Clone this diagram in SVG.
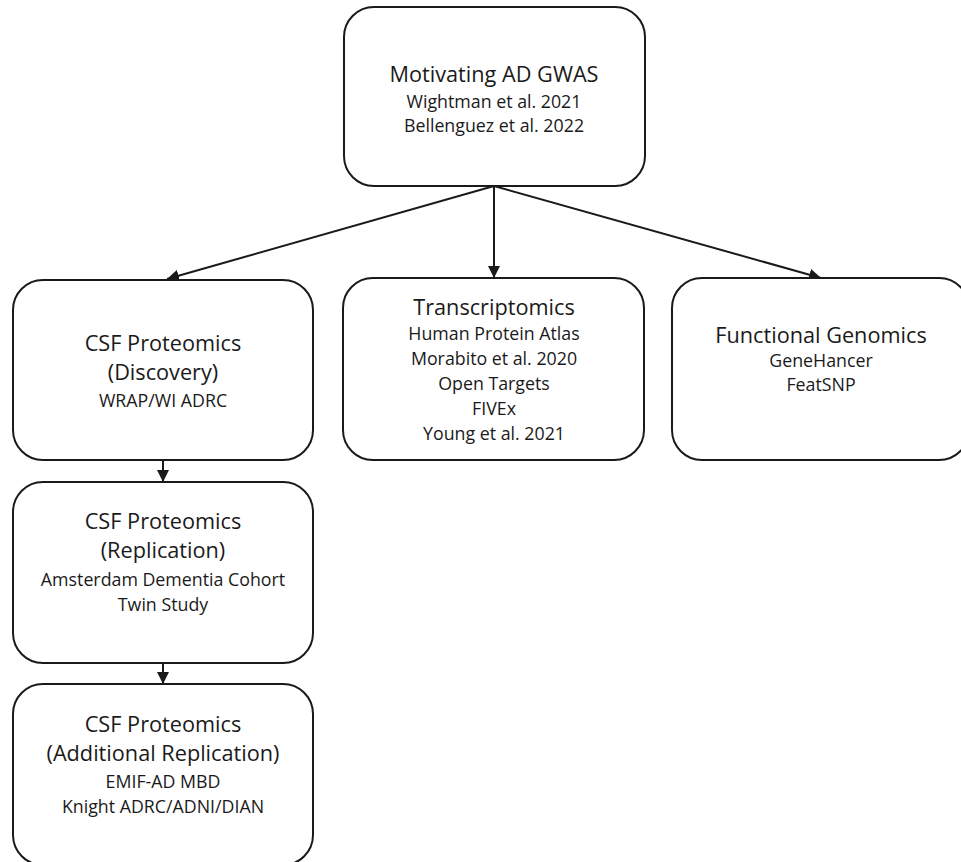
<svg xmlns="http://www.w3.org/2000/svg" width="961" height="862" viewBox="0 0 961 862">
<defs>
<style>
.box{fill:#ffffff;stroke:#1a1a1a;stroke-width:2}
.t{font-family:"Open Sans","Liberation Sans",sans-serif;font-size:21.7px;fill:#1a1a1a;text-anchor:middle}
.s{font-family:"Open Sans","Liberation Sans",sans-serif;font-size:17.8px;fill:#1a1a1a;text-anchor:middle}
.c{stroke:#1a1a1a;stroke-width:2;fill:none;marker-end:url(#ah)}
</style>
<marker id="ah" viewBox="0 0 10 10" refX="10" refY="5" markerWidth="6" markerHeight="6" orient="auto" markerUnits="strokeWidth">
<path d="M0,0 L10,5 L0,10 z" fill="#1a1a1a"/>
</marker>
</defs>
<rect width="961" height="862" fill="#ffffff"/>
<g id="connectors">
<line class="c" x1="494" y1="186" x2="167" y2="279"/>
<line class="c" x1="494" y1="186" x2="494" y2="278"/>
<line class="c" x1="494" y1="186" x2="821" y2="278"/>
<line class="c" x1="163" y1="461" x2="163" y2="482"/>
<line class="c" x1="163" y1="663" x2="163" y2="684"/>
</g>
<g id="gwas">
<rect class="box" x="344" y="7" width="301" height="179" rx="30" ry="30"/>
<text class="t" x="494" y="82">Motivating AD GWAS</text>
<text class="s" x="494" y="108">Wightman et al. 2021</text>
<text class="s" x="494" y="132">Bellenguez et al. 2022</text>
</g>
<g id="discovery">
<rect class="box" x="13" y="280" width="300" height="180" rx="30" ry="30"/>
<text class="t" x="163" y="351">CSF Proteomics</text>
<text class="t" x="163" y="380">(Discovery)</text>
<text class="s" x="163" y="407">WRAP/WI ADRC</text>
</g>
<g id="transcriptomics">
<rect class="box" x="343" y="278" width="301" height="182" rx="30" ry="30"/>
<text class="t" x="494" y="315">Transcriptomics</text>
<text class="s" x="494" y="340">Human Protein Atlas</text>
<text class="s" x="494" y="365">Morabito et al. 2020</text>
<text class="s" x="494" y="390">Open Targets</text>
<text class="s" x="494" y="415">FIVEx</text>
<text class="s" x="494" y="440">Young et al. 2021</text>
</g>
<g id="functional">
<rect class="box" x="672" y="278" width="297" height="182" rx="30" ry="30"/>
<text class="t" x="821" y="343">Functional Genomics</text>
<text class="s" x="821" y="367">GeneHancer</text>
<text class="s" x="821" y="391">FeatSNP</text>
</g>
<g id="replication">
<rect class="box" x="13" y="482" width="300" height="181" rx="30" ry="30"/>
<text class="t" x="163" y="529">CSF Proteomics</text>
<text class="t" x="163" y="558">(Replication)</text>
<text class="s" x="163" y="586">Amsterdam Dementia Cohort</text>
<text class="s" x="163" y="611">Twin Study</text>
</g>
<g id="additional">
<rect class="box" x="13" y="684" width="300" height="181" rx="30" ry="30"/>
<text class="t" x="163" y="732">CSF Proteomics</text>
<text class="t" x="163" y="761">(Additional Replication)</text>
<text class="s" x="163" y="788">EMIF-AD MBD</text>
<text class="s" x="163" y="813">Knight ADRC/ADNI/DIAN</text>
</g>
</svg>
